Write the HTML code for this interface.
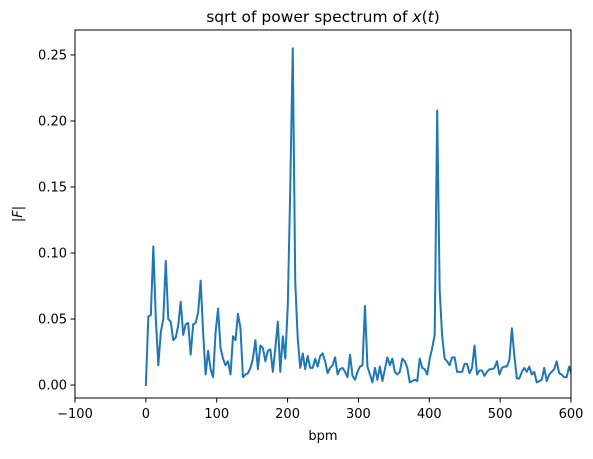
<!DOCTYPE html>
<html><head><meta charset="utf-8"><style>
body{margin:0;background:#fff;font-family:"DejaVu Sans","Liberation Sans",sans-serif}
</style></head><body>
<svg width="593" height="455" xmlns="http://www.w3.org/2000/svg" font-family="DejaVu Sans, Liberation Sans, sans-serif">
<defs><clipPath id="c"><rect x="75" y="30" width="496" height="368"/></clipPath></defs>
<g id="g"></g>
</svg>
<script>
const bpmStep = 3.5;
const values = [0,0.052,0.053,0.105,0.05,0.015,0.04,0.05,0.094,0.05,0.048,0.034,0.036,0.045,0.063,0.038,0.046,0.047,0.023,0.046,0.047,0.055,0.079,0.04,0.008,0.026,0.012,0.006,0.04,0.058,0.028,0.02,0.015,0.018,0.008,0.037,0.034,0.054,0.043,0.006,0.008,0.009,0.013,0.02,0.034,0.012,0.03,0.028,0.018,0.026,0.027,0.01,0.028,0.048,0.01,0.037,0.02,0.06,0.15,0.255,0.078,0.035,0.013,0.024,0.012,0.022,0.013,0.013,0.02,0.014,0.022,0.024,0.018,0.009,0.013,0.015,0.021,0.008,0.012,0.013,0.01,0.006,0.023,0.007,0.004,0.01,0.014,0.015,0.06,0.014,0.008,0.002,0.013,0.004,0.014,0.003,0.012,0.021,0.015,0.02,0.01,0.008,0.01,0.02,0.018,0.013,0.002,0.003,0.004,0.003,0.02,0.013,0.012,0.008,0.02,0.028,0.038,0.208,0.072,0.037,0.02,0.018,0.015,0.021,0.021,0.01,0.01,0.01,0.016,0.016,0.009,0.013,0.03,0.008,0.011,0.011,0.007,0.01,0.012,0.012,0.013,0.018,0.008,0.013,0.014,0.014,0.019,0.043,0.022,0.005,0.005,0.01,0.013,0.01,0.014,0.008,0.01,0.002,0.003,0.004,0.013,0.003,0.008,0.01,0.012,0.018,0.009,0.008,0.006,0.006,0.014,0.008,0.01];
const xTicks = [-100,0,100,200,300,400,500,600];
const xTickLabels = ["\u2212100","0","100","200","300","400","500","600"];
const yTicks = [0,0.05,0.10,0.15,0.20,0.25];
const yTickLabels = ["0.00","0.05","0.10","0.15","0.20","0.25"];
const L=75,R=571,T=30,B=398, xmin=-100,xmax=600, ymin=-0.0098, ymax=0.2689;
const X=v=>L+(v-xmin)/(xmax-xmin)*(R-L);
const Y=v=>B-(v-ymin)/(ymax-ymin)*(B-T);
const g=document.getElementById('g');
const NS='http://www.w3.org/2000/svg';
function mk(tag,attrs,parent){const e=document.createElementNS(NS,tag);for(const k in attrs)e.setAttribute(k,attrs[k]);(parent||g).appendChild(e);return e;}
const pts=values.map((v,i)=>X(i*bpmStep*1.004).toFixed(2)+','+Y(v).toFixed(2)).join(' ');
const line=mk('polyline',{points:pts,fill:'none',stroke:'#1f77b4','stroke-width':2,'clip-path':'url(#c)','stroke-linejoin':'round','stroke-linecap':'square'});


const frame=mk('rect',{x:L,y:T,width:R-L,height:B-T,fill:'none',stroke:'#000','stroke-width':1});


xTicks.forEach((t,i)=>{const x=X(t);
 mk('line',{x1:x,x2:x,y1:B,y2:B+4.5,stroke:'#000','stroke-width':1});
 const tx=mk('text',{x:x,y:B+20,'text-anchor':'middle','font-size':13});tx.textContent=xTickLabels[i];
 
 
});
yTicks.forEach((t,i)=>{const y=Y(t);
 mk('line',{x1:L-4.5,x2:L,y1:y,y2:y,stroke:'#000','stroke-width':1});
 const tx=mk('text',{x:L-8,y:y+4.5,'text-anchor':'end','font-size':13});tx.textContent=yTickLabels[i];
 
 
});
const xl=mk('text',{x:(L+R)/2,y:B+42,'text-anchor':'middle','font-size':13});xl.textContent='bpm';


const yl=mk('text',{x:0,y:0,'text-anchor':'middle','font-size':13,transform:`translate(22,${(T+B)/2}) rotate(-90)`});
yl.innerHTML='|<tspan font-style="italic">F</tspan>|';


const ti=mk('text',{x:(L+R)/2,y:T-8,'text-anchor':'middle','font-size':15.5});
ti.innerHTML='sqrt of power spectrum of <tspan font-style="italic">x</tspan>(<tspan font-style="italic">t</tspan>)';


</script>
</body></html>
